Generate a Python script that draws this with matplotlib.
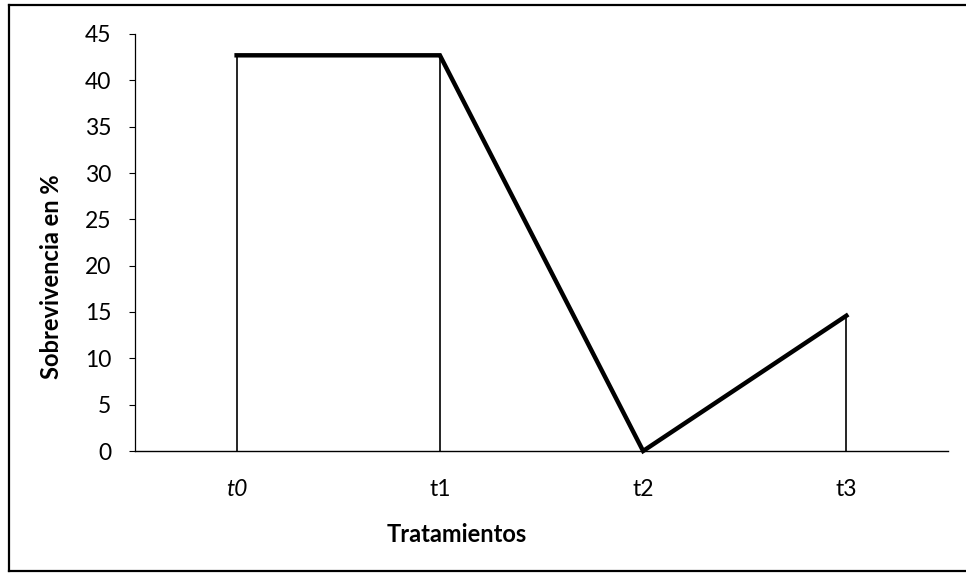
import matplotlib.pyplot as plt
from matplotlib.lines import Line2D
import numpy as np

categorias = ['t0', 't1', 't2', 't3']
sobrevivencia = [42.7, 42.7, 0.0, 14.6]
yticks = [0, 5, 10, 15, 20, 25, 30, 35, 40, 45]

plt.rcParams['font.family'] = ['Lato', 'DejaVu Sans']

fig = plt.figure(figsize=(9.66, 5.73), dpi=100)
ax = fig.add_axes([135 / 966, 1 - 451 / 573, (948 - 135) / 966, (451 - 34) / 573])

x = np.arange(len(categorias))

# drop lines from each point to the axis
ax.vlines(x, 0, sobrevivencia, color='black', linewidth=1.2, zorder=2)
ax.plot(x, sobrevivencia, color='black', linewidth=3.2, solid_joinstyle='miter',
        zorder=3, clip_on=False)

ax.set_xlim(-0.5, len(categorias) - 0.5)
ax.set_ylim(0, 45)
ax.set_yticks(yticks)
ax.set_xticks(x)
ax.set_xticklabels(categorias, fontsize=16.5)
ax.get_xticklabels()[0].set_style('italic')
ax.tick_params(axis='y', labelsize=16.5, length=4, width=0.8, pad=13)
ax.tick_params(axis='x', length=0, pad=20)

for s in ['top', 'right']:
    ax.spines[s].set_visible(False)
ax.spines['left'].set_linewidth(0.9)
ax.spines['bottom'].set_linewidth(1.0)

ax.set_ylabel('Sobrevivencia en %', fontsize=17, fontweight='bold')
ax.set_xlabel('Tratamientos', fontsize=17, fontweight='bold')
ax.yaxis.set_label_coords(-0.088, 0.417)
ax.xaxis.set_label_coords(0.396, -0.173)

# outer frame of the chart
W, H = 966, 573
fx0, fx1 = 9 / W, 1.01
fy0, fy1 = 1 - 571 / H, 1 - 5 / H
for xs, ys in [([fx0, fx1], [fy1, fy1]), ([fx0, fx0], [fy0, fy1]), ([fx0, fx1], [fy0, fy0])]:
    fig.add_artist(Line2D(xs, ys, transform=fig.transFigure, color='black', linewidth=1.6))

fig.savefig('out.png', dpi=100)
